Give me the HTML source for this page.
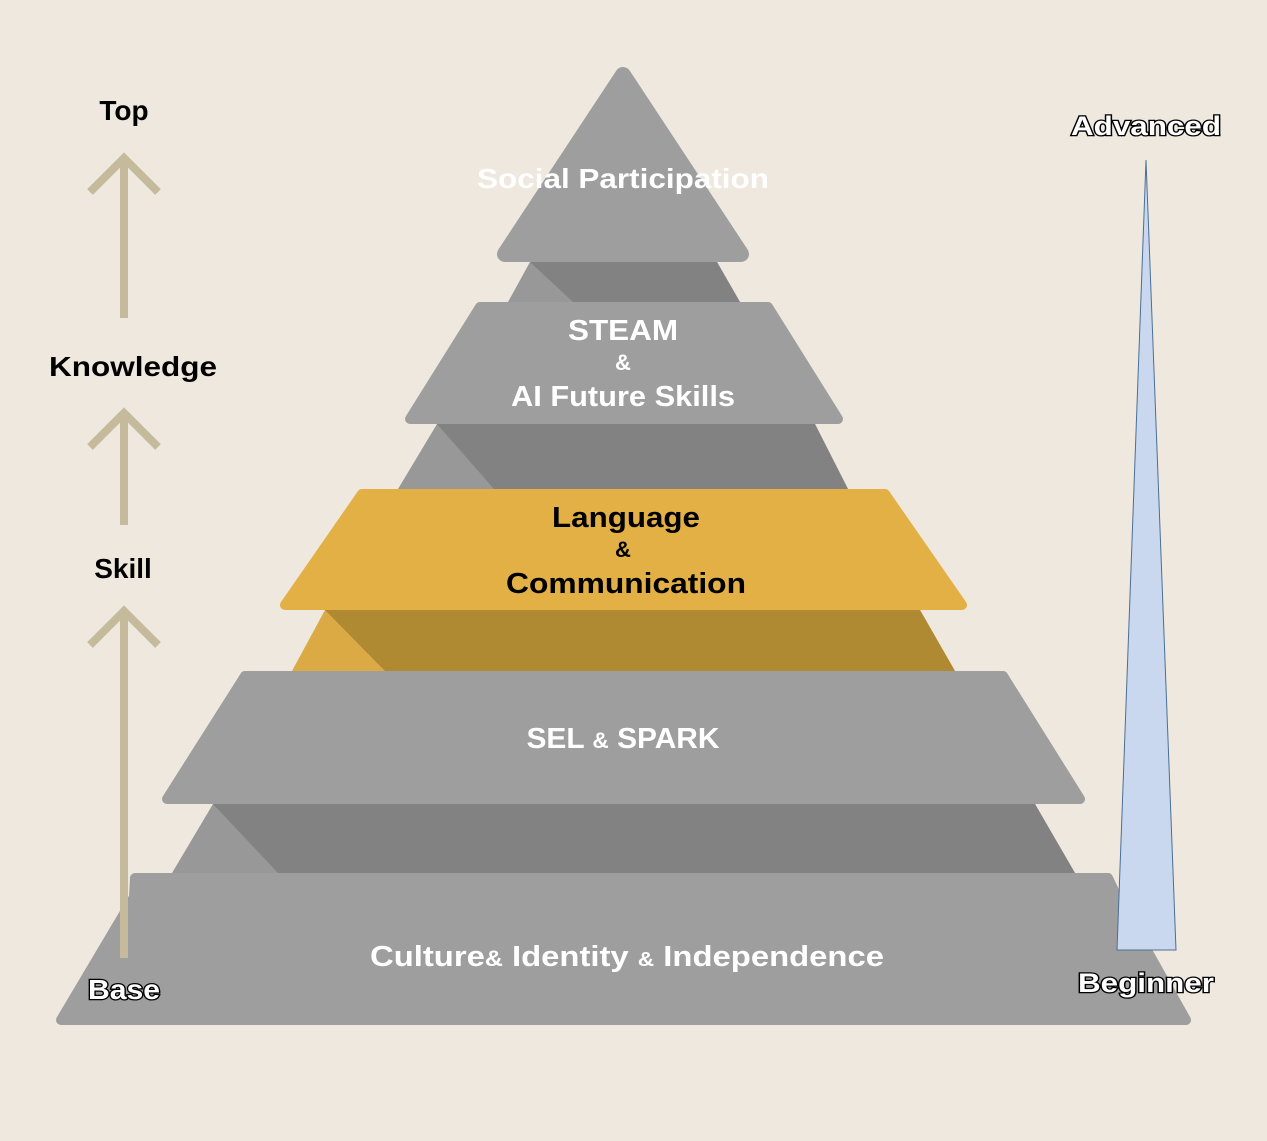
<!DOCTYPE html>
<html><head><meta charset="utf-8"><style>
html,body{margin:0;padding:0;background:#efe8de;}
svg{display:block}
text{font-family:"Liberation Sans",sans-serif;font-weight:bold;}
.w{fill:#fff}
.o{fill:#fff;stroke:#000;stroke-width:2.6;paint-order:stroke;}
</style></head><body>
<svg width="1267" height="1141" viewBox="0 0 1267 1141" xmlns="http://www.w3.org/2000/svg">
<rect width="1267" height="1141" fill="#efe8de"/>
<polygon points="530,262 717,262 740,302 508,302" fill="#989898"/>
<polygon points="530,262 717,262 740,302 573,302" fill="#828282"/>
<polygon points="437,424 815,424 848,489 398,489" fill="#989898"/>
<polygon points="437,424 815,424 848,489 494,489" fill="#828282"/>
<polygon points="325,610 920,610 955,671 292,671" fill="#dcaa44"/>
<polygon points="325,610 920,610 955,671 385,671" fill="#b08a33"/>
<polygon points="213,804 1035,804 1075,873 172,873" fill="#989898"/>
<polygon points="213,804 1035,804 1075,873 278,873" fill="#828282"/>
<g stroke-linejoin="round">
<polygon points="623,75 741,254 505,254" fill="#9e9e9e" stroke="#9e9e9e" stroke-width="16"/>
<polygon points="480,307 768,307 838,419 410,419" fill="#9e9e9e" stroke="#9e9e9e" stroke-width="10"/>
<polygon points="362,494 885,494 962,605 285,605" fill="#e2b044" stroke="#e2b044" stroke-width="10"/>
<polygon points="245,676 1003,676 1080,799 167,799" fill="#9e9e9e" stroke="#9e9e9e" stroke-width="10"/>
<polygon points="135,878 1108,878 1117,897 1186,1020 61,1020 134,897" fill="#9e9e9e" stroke="#9e9e9e" stroke-width="10"/>
</g>
<polygon points="1146,160 1176,950 1117,950" fill="#c9d8ee" stroke="#4a6f95" stroke-width="1"/>
<g stroke="#c5bb9c" stroke-width="8" fill="none">
<line x1="124" y1="160" x2="124" y2="318"/>
<polyline points="90,192 124,158 158,192"/>
<line x1="124" y1="414" x2="124" y2="525"/>
<polyline points="90,447 124,413 158,447"/>
<line x1="124" y1="612" x2="124" y2="958"/>
<polyline points="90,645 124,611 158,645"/>
</g>
<g text-anchor="middle">
<text x="124" y="120" font-size="28">Top</text>
<text x="133" y="376" font-size="28" textLength="168" lengthAdjust="spacingAndGlyphs">Knowledge</text>
<text x="123" y="578" font-size="28">Skill</text>
<text x="124" y="999" font-size="28" class="o" textLength="72" lengthAdjust="spacingAndGlyphs">Base</text>
<text x="1146" y="135" font-size="27" class="o" textLength="150" lengthAdjust="spacingAndGlyphs">Advanced</text>
<text x="1146" y="992" font-size="27" class="o" textLength="136" lengthAdjust="spacingAndGlyphs">Beginner</text>

<text x="623" y="188" font-size="28" class="w" textLength="292" lengthAdjust="spacingAndGlyphs">Social Participation</text>
<text x="623" y="340" font-size="29" class="w" textLength="110" lengthAdjust="spacingAndGlyphs">STEAM</text>
<text x="623" y="370" font-size="22" class="w">&amp;</text>
<text x="623" y="406" font-size="29" class="w" textLength="224" lengthAdjust="spacingAndGlyphs">AI Future Skills</text>
<text x="626" y="527" font-size="29" textLength="148" lengthAdjust="spacingAndGlyphs">Language</text>
<text x="623" y="557" font-size="22">&amp;</text>
<text x="626" y="593" font-size="29" textLength="240" lengthAdjust="spacingAndGlyphs">Communication</text>
<text x="623" y="748" font-size="29" class="w" textLength="193" lengthAdjust="spacingAndGlyphs">SEL <tspan font-size="22">&amp;</tspan> SPARK</text>
<text x="627" y="966" font-size="29" class="w" textLength="514" lengthAdjust="spacingAndGlyphs">Culture<tspan font-size="22">&amp;</tspan>  Identity <tspan font-size="20">&amp;</tspan> Independence</text>
</g>
</svg>
</body></html>
